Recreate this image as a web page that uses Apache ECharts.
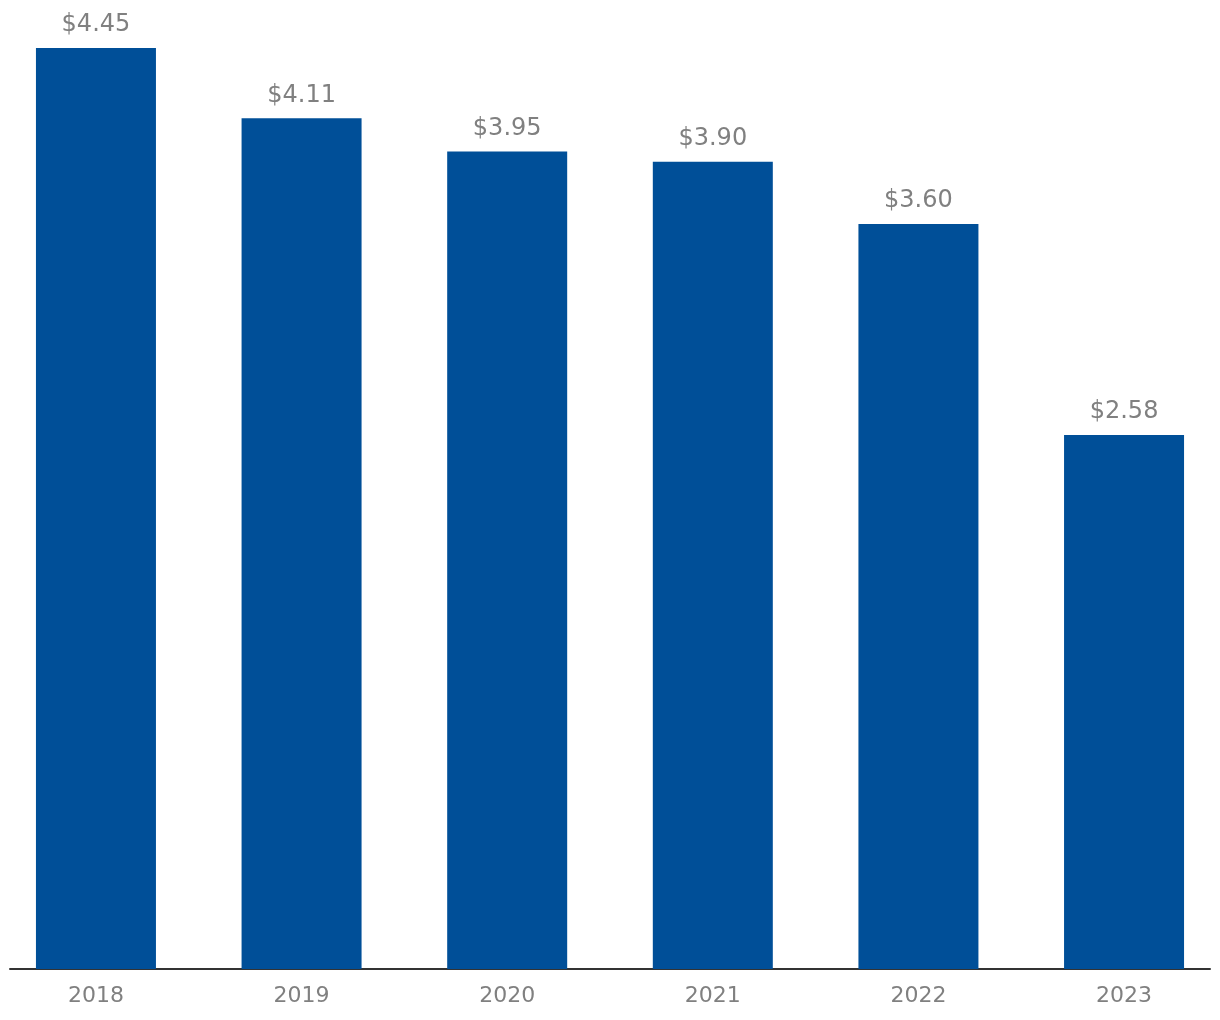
<!DOCTYPE html>
<html>
<head>
<meta charset="utf-8">
<script src="https://cdn.jsdelivr.net/npm/echarts@6/dist/echarts.min.js"></script>
<style>
html,body{margin:0;padding:0;background:#fff;}
#main{width:1220px;height:1020px;}
</style>
</head>
<body>
<div id="main"></div>
<script>
var categories = ['2018', '2019', '2020', '2021', '2022', '2023'];
var values = [4.45, 4.11, 3.95, 3.90, 3.60, 2.58];

var positions = categories.map(function (c, i) { return i; });
var seriesData = values.map(function (v, i) { return [i, v]; });

var chart = echarts.init(document.getElementById('main'), null, {renderer: 'canvas'});
chart.setOption({
  animation: false,
  grid: {left: 10, right: 10, top: 48, bottom: 51, containLabel: false},
  xAxis: {
    type: 'value',
    min: -0.418, max: 5.418,
    splitLine: {show: false},
    axisLine: {show: true, onZero: false, lineStyle: {color: '#333333', width: 2}},
    axisTick: {show: false, customValues: positions},
    axisLabel: {
      color: '#808080', fontSize: 22, fontFamily: 'DejaVu Sans', margin: 16,
      customValues: positions,
      formatter: function (v) { return categories[Math.round(v)]; }
    }
  },
  yAxis: {
    type: 'value', min: 0, max: 4.45,
    show: false,
    splitLine: {show: false}
  },
  series: [{
    type: 'bar',
    data: seriesData,
    barWidth: 120,
    itemStyle: {color: '#004f98'},
    label: {
      show: true, position: 'top', distance: 11,
      color: '#808080', fontSize: 24, fontFamily: 'DejaVu Sans',
      formatter: function (p) { return '$' + p.value[1].toFixed(2); }
    }
  }]
});
</script>
</body>
</html>
